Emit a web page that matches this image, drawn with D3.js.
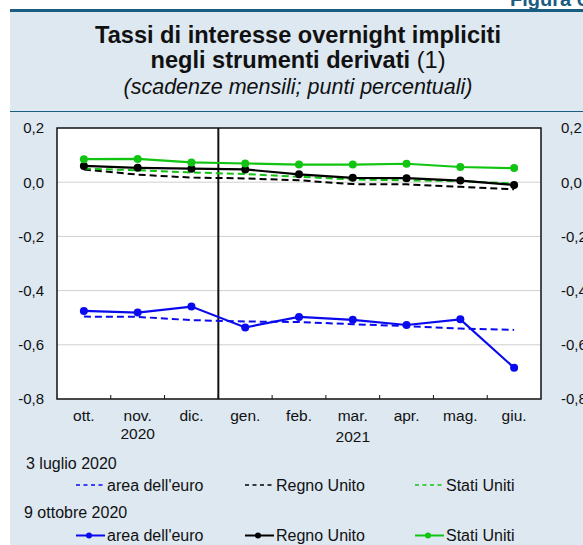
<!DOCTYPE html>
<html>
<head>
<meta charset="utf-8">
<script src="https://cdn.jsdelivr.net/npm/d3@7"></script>
<style>
  body { margin: 0; background: #fff; }
  svg { display: block; font-family: "Liberation Sans", Arial, sans-serif; }
</style>
</head>
<body>
<script>
// mesi (scadenze mensili)
var months = ["ott.", "nov.", "dic.", "gen.", "feb.", "mar.", "apr.", "mag.", "giu."];
var yTicks = [0.2, 0.0, -0.2, -0.4, -0.6, -0.8];

// 3 luglio 2020 (tratteggiate)
var euroJul = [-0.496, -0.497, -0.509, -0.514, -0.516, -0.524, -0.531, -0.540, -0.545];
var ukJul   = [0.047, 0.028, 0.017, 0.014, 0.007, -0.007, -0.008, -0.017, -0.026];
var usJul   = [0.050, 0.044, 0.036, 0.030, 0.020, 0.010, 0.007, 0.004, -0.005];

// 9 ottobre 2020 (linee con punti)
var euroOct = [-0.475, -0.481, -0.459, -0.536, -0.497, -0.508, -0.527, -0.506, -0.685];
var ukOct   = [0.060, 0.053, 0.050, 0.047, 0.029, 0.016, 0.015, 0.006, -0.010];
var usOct   = [0.085, 0.086, 0.073, 0.069, 0.065, 0.065, 0.068, 0.056, 0.052];

var W = 583, H = 545;
var svg = d3.select("body").append("svg").attr("width", W).attr("height", H);

// sfondo pannello
svg.append("rect").attr("x", 10).attr("y", 10).attr("width", W - 10).attr("height", H - 10).attr("fill", "#dde8f1");
svg.append("rect").attr("x", 10).attr("y", 9).attr("width", W - 10).attr("height", 3).attr("fill", "#1b5c82");
svg.append("line").attr("x1", 10).attr("x2", W).attr("y1", 111.5).attr("y2", 111.5).attr("stroke", "#1b5c82").attr("stroke-width", 1);
svg.append("text").attr("x", 510).attr("y", 6).attr("font-size", 20).attr("font-weight", "bold")
   .attr("fill", "#1b5c82").text("Figura 6");

// titolo
svg.append("text").attr("x", 298).attr("y", 43).attr("text-anchor", "middle")
   .attr("font-size", 23.6).attr("font-weight", "bold").attr("fill", "#111").text("Tassi di interesse overnight impliciti");
var t2 = svg.append("text").attr("x", 298).attr("y", 68).attr("text-anchor", "middle")
   .attr("font-size", 23.6).attr("fill", "#111");
t2.append("tspan").attr("font-weight", "bold").text("negli strumenti derivati ");
t2.append("tspan").text("(1)");
svg.append("text").attr("x", 298).attr("y", 94).attr("text-anchor", "middle")
   .attr("font-size", 21.5).attr("font-style", "italic").attr("fill", "#111")
   .text("(scadenze mensili; punti percentuali)");

var margin = {left: 57, right: 42, top: 128, bottom: 146};
var width = W - margin.left - margin.right;   // 484
var height = H - margin.top - margin.bottom;  // 271

var x = d3.scaleBand().domain(months).range([0, width]);
var y = d3.scaleLinear().domain([-0.8, 0.2]).range([height, 0]);

var g = svg.append("g").attr("transform", "translate(" + margin.left + "," + margin.top + ")");
g.append("rect").attr("width", width).attr("height", height).attr("fill", "#fff");

// griglia
g.selectAll(".grid").data(yTicks.slice(1, -1)).enter().append("line")
   .attr("x1", 0).attr("x2", width).attr("y1", function(d){ return y(d); }).attr("y2", function(d){ return y(d); })
   .attr("stroke", "#cfcfcf").attr("stroke-width", 1);

var fmt = function(d){ return d3.format(".1f")(d).replace(".", ",").replace("−", "-"); };

// assi y (sinistra e destra)
var yLeft = g.append("g").call(d3.axisLeft(y).tickValues(yTicks).tickSize(0).tickPadding(13).tickFormat(fmt));
var yRight = g.append("g").attr("transform", "translate(" + width + ",0)")
   .call(d3.axisRight(y).tickValues(yTicks).tickSize(0).tickPadding(20).tickFormat(fmt));
[yLeft, yRight].forEach(function(a){
  a.select(".domain").remove();
  a.selectAll("text").attr("font-size", 15).attr("fill", "#111").attr("font-family", "Liberation Sans, Arial, sans-serif");
});

// asse x
var xAxis = g.append("g").attr("transform", "translate(0," + height + ")")
   .call(d3.axisBottom(x).tickSize(0).tickPadding(11));
xAxis.select(".domain").remove();
xAxis.selectAll("text").attr("font-size", 15.5).attr("fill", "#111").attr("font-family", "Liberation Sans, Arial, sans-serif");
// tacche tra i mesi (verso l'interno)
g.selectAll(".tk").data(months.slice(1)).enter().append("line")
   .attr("x1", function(d){ return x(d); }).attr("x2", function(d){ return x(d); })
   .attr("y1", height).attr("y2", height - 4).attr("stroke", "#111");
// anni
g.append("text").attr("x", x("nov.") + x.bandwidth() / 2).attr("y", height + 40).attr("text-anchor", "middle")
   .attr("font-size", 15.5).attr("fill", "#111").text("2020");
g.append("text").attr("x", x("mar.") + x.bandwidth() / 2).attr("y", height + 43).attr("text-anchor", "middle")
   .attr("font-size", 15.5).attr("fill", "#111").text("2021");

// bordo
g.append("rect").attr("width", width).attr("height", height).attr("fill", "none").attr("stroke", "#111").attr("stroke-width", 1.5);
// separazione anni
g.append("line").attr("x1", x("gen.")).attr("x2", x("gen.")).attr("y1", 0).attr("y2", height)
   .attr("stroke", "#111").attr("stroke-width", 2);

var line = d3.line()
   .x(function(d, i){ return x(months[i]) + x.bandwidth() / 2; })
   .y(function(d){ return y(d); });

var blue = "#0a0aee", black = "#000", green = "#11c411";
var dashed = [[euroJul, blue], [ukJul, black], [usJul, green]];
var solid = [[euroOct, blue], [ukOct, black], [usOct, green]];

dashed.forEach(function(s){
  g.append("path").attr("d", line(s[0])).attr("fill", "none").attr("stroke", s[1])
   .attr("stroke-width", 2).attr("stroke-dasharray", "7,4");
});
solid.forEach(function(s){
  g.append("path").attr("d", line(s[0])).attr("fill", "none").attr("stroke", s[1]).attr("stroke-width", 2.2);
  g.selectAll(null).data(s[0]).enter().append("circle")
   .attr("cx", function(d, i){ return x(months[i]) + x.bandwidth() / 2; })
   .attr("cy", function(d){ return y(d); }).attr("r", 4).attr("fill", s[1]);
});

// legenda
var names = ["area dell'euro", "Regno Unito", "Stati Uniti"];
var lx = [76, 245, 415];
var leg = svg.append("g").attr("font-size", 16).attr("fill", "#111");
leg.append("text").attr("x", 26).attr("y", 469).text("3 luglio 2020");
leg.append("text").attr("x", 24).attr("y", 518).text("9 ottobre 2020");
names.forEach(function(n, i){
  leg.append("line").attr("x1", lx[i]).attr("x2", lx[i] + 29).attr("y1", 485).attr("y2", 485)
     .attr("stroke", dashed[i][1]).attr("stroke-width", 1.5).attr("stroke-dasharray", "4,3.5");
  leg.append("text").attr("x", lx[i] + 31).attr("y", 490.5).text(n);
  leg.append("line").attr("x1", lx[i]).attr("x2", lx[i] + 29).attr("y1", 535.5).attr("y2", 535.5)
     .attr("stroke", solid[i][1]).attr("stroke-width", 2);
  leg.append("circle").attr("cx", lx[i] + 13).attr("cy", 535.5).attr("r", 3).attr("fill", solid[i][1]);
  leg.append("text").attr("x", lx[i] + 31).attr("y", 541).text(n);
});
</script>
</body>
</html>
